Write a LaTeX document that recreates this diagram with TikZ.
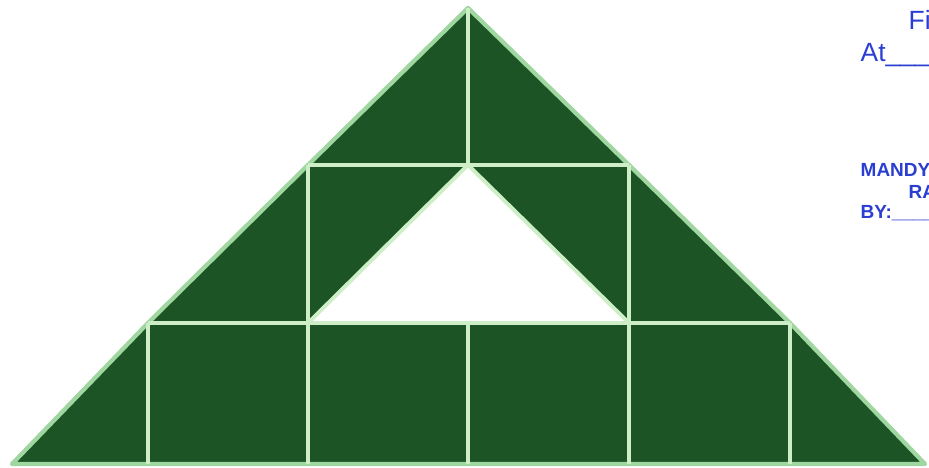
\documentclass[tikz,border=0pt]{standalone}
\usepackage{fontspec}
\setmainfont{Liberation Sans}
\usepackage{xcolor}
\usetikzlibrary{calc}
\definecolor{boardgreen}{RGB}{29,84,38}
\definecolor{seam}{RGB}{205,238,198}
\definecolor{rim}{RGB}{160,214,160}
\definecolor{inkblue}{RGB}{42,62,210}
\tikzset{
  piece/.style={fill=boardgreen,draw=rim,line width=1.2pt,line join=round},
  seamline/.style={draw=seam,line width=1.1pt},
  hole/.style={fill=white,draw=seam,line width=1.1pt,line join=round},
  stamp/.style={inkblue,inner sep=0pt,anchor=base west},
}
\begin{document}
\begin{tikzpicture}[x=0.01cm,y=-0.01cm]
\clip (0,0) rectangle (929,468);
\fill[white] (0,0) rectangle (929,468);
% corners and grid points
\coordinate (apex) at (468,8);
\coordinate (bl) at (12,464);
\coordinate (br) at (925,464);
\coordinate (l1) at (308,165);
\coordinate (r1) at (629,165);
\coordinate (l2) at (148,323);
\coordinate (r2) at (790,323);
% the board
\draw[piece] (bl)--(l2)--(l1)--(apex)--(r1)--(r2)--(br)--cycle;
% rows
\draw[seamline] (l1)--(r1);
\draw[seamline] (l2)--(r2);
% cut-out
\draw[hole] (l1 |- l2)--(apex |- l1)--(r1 |- r2)--cycle;
% columns
\draw[seamline] (apex)--(apex |- l1);
\draw[seamline] (l1)--(l1 |- l2);
\draw[seamline] (r1)--(r1 |- r2);
\draw[seamline] (l2)--(l2 |- bl);
\draw[seamline] (l1 |- l2)--(l1 |- bl);
\draw[seamline] (apex |- l2)--(apex |- bl);
\draw[seamline] (r1 |- r2)--(r1 |- br);
\draw[seamline] (r2)--(r2 |- br);
% stamp text
\node[stamp,font=\fontsize{7.5}{9}\selectfont] (fi) at (908,30) {Fi};
\node[stamp,font=\fontsize{7.5}{9}\selectfont] (at) at (860,62) {At\_\_\_\_};
\node[stamp,font=\bfseries\fontsize{5.4}{6}\selectfont] (mandy) at (860,177) {MANDY};
\node[stamp,font=\bfseries\fontsize{5.4}{6}\selectfont] (ra) at (908,199) {RA};
\node[stamp,font=\bfseries\fontsize{5.4}{6}\selectfont] (by) at (860,219) {BY:\_\_\_\_\_};
\end{tikzpicture}
\end{document}
